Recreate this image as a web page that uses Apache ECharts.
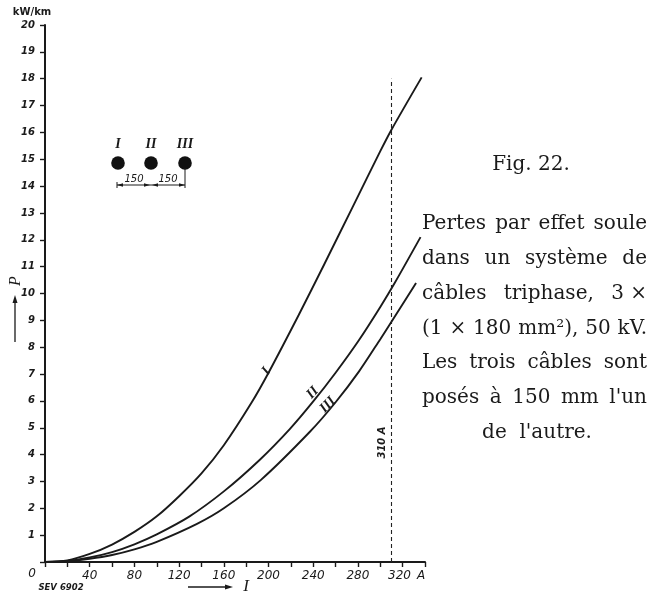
<!DOCTYPE html>
<html><head><meta charset="utf-8">
<script src="https://cdn.jsdelivr.net/npm/echarts@6/dist/echarts.min.js"></script>
<style>html,body{margin:0;padding:0;background:#fff}#c{width:647px;height:595px}</style>
</head><body><div id="c"></div>
<script>
// ---- data (current I in A, loss P in kW/km) ----
const xTickValues = [0,20,40,60,80,100,120,140,160,180,200,220,240,260,280,300,320,340];
const xLabelValues = [40,80,120,160,200,240,280,320];
const yLabelValues = [1,2,3,4,5,6,7,8,9,10,11,12,13,14,15,16,17,18,19,20];
const curveI   = [[0,0],[20,0.06],[40,0.3],[60,0.65],[80,1.12],[100,1.7],[120,2.45],[140,3.3],[160,4.35],[185,5.95],[200,7.05],[227,9.2],[250,11.1],[275,13.2],[300,15.3],[310,16.1],[337,18.05]];
const curveII  = [[0,0],[20,0.04],[40,0.17],[60,0.37],[80,0.66],[100,1.03],[129,1.69],[160,2.63],[192,3.8],[219,4.95],[240,5.98],[260,7.05],[281,8.27],[300,9.5],[313,10.4],[336,12.1]];
const curveIII = [[0,0],[20,0.03],[40,0.12],[60,0.26],[80,0.47],[100,0.75],[136,1.42],[160,2.0],[193,3.05],[237,4.85],[260,5.95],[281,7.1],[300,8.3],[310,8.95],[332,10.39]];
const limitCurrent = 310;
const limitTop = 18;
const curveNames = ['I','II','III'];
const curveLabelAt = [[198,7.1],[239.5,6.3],[253,5.85]];
const figTitle = 'Fig. 22.';
const captionLines = [
  ['Pertes','par','effet','soule'],
  ['dans','un','système','de'],
  ['câbles','triphase,','3 ×'],
  ['(1','×','180','mm²),','50','kV.'],
  ['Les','trois','câbles','sont'],
  ['posés','à','150','mm',"l'un"]
];
const captionLast = "de  l'autre.";

const ink = '#1a1a1a';
const chart = echarts.init(document.getElementById('c'), null, {renderer:'canvas'});

// justify caption lines
const cv = document.createElement('canvas').getContext('2d');
const capFont = '20px "DejaVu Serif"';
cv.font = capFont;
const capLeft = 422, capRight = 647;
const capY0 = 224, capStep = 34.8;
const captionGraphics = [];
captionLines.forEach((words, li) => {
  const widths = words.map(w => cv.measureText(w).width);
  const total = widths.reduce((a,b)=>a+b,0);
  const gap = Math.max(5, (capRight - capLeft - total) / (words.length - 1));
  let x = capLeft;
  words.forEach((w, wi) => {
    captionGraphics.push({type:'text', x:x, y:capY0 + li*capStep,
      style:{text:w, font:capFont, fill:ink, align:'left', verticalAlign:'middle'}});
    x += widths[wi] + gap;
  });
});
captionGraphics.push({type:'text', x:537, y:capY0 + 6*capStep,
  style:{text:captionLast, font:capFont, fill:ink, align:'center', verticalAlign:'middle'}});
captionGraphics.push({type:'text', x:531, y:165,
  style:{text:figTitle, font:capFont, fill:ink, align:'center', verticalAlign:'middle'}});

// cable arrangement sketch
const cableX = [118, 151, 185];
const sketch = [];
cableX.forEach((cx, i) => {
  sketch.push({type:'circle', shape:{cx:cx, cy:163, r:6.8}, style:{fill:'#111'}});
  sketch.push({type:'text', x:cx, y:144, style:{text:curveNames[i], font:'italic bold 14px "Liberation Serif"', fill:ink, align:'center', verticalAlign:'middle'}});
});
sketch.push({type:'line', shape:{x1:117, y1:185, x2:185, y2:185}, style:{stroke:ink, lineWidth:1}});
sketch.push({type:'line', shape:{x1:185, y1:168, x2:185, y2:188}, style:{stroke:ink, lineWidth:1}});
sketch.push({type:'line', shape:{x1:117, y1:182, x2:117, y2:188}, style:{stroke:ink, lineWidth:1}});
sketch.push({type:'polygon', shape:{points:[[117,185],[123,183.3],[123,186.7]]}, style:{fill:ink}});
sketch.push({type:'polygon', shape:{points:[[150,185],[144,183.3],[144,186.7]]}, style:{fill:ink}});
sketch.push({type:'polygon', shape:{points:[[152,185],[158,183.3],[158,186.7]]}, style:{fill:ink}});
sketch.push({type:'polygon', shape:{points:[[185,185],[179,183.3],[179,186.7]]}, style:{fill:ink}});
sketch.push({type:'text', x:134, y:179, style:{text:'150', font:'italic 10px "DejaVu Sans"', fill:ink, align:'center', verticalAlign:'middle'}});
sketch.push({type:'text', x:168, y:179, style:{text:'150', font:'italic 10px "DejaVu Sans"', fill:ink, align:'center', verticalAlign:'middle'}});

// axis annotations
const axisNotes = [
  {type:'text', x:32, y:12.5, style:{text:'kW/km', font:'bold 10px "DejaVu Sans"', fill:ink, align:'center', verticalAlign:'middle'}},
  {type:'text', x:16, y:281, rotation:Math.PI/2, style:{text:'P', font:'italic 16px "Liberation Serif"', fill:ink, align:'center', verticalAlign:'middle'}},
  {type:'line', shape:{x1:15, y1:342, x2:15, y2:300}, style:{stroke:ink, lineWidth:1.3}},
  {type:'polygon', shape:{points:[[15,295],[12.5,303],[17.5,303]]}, style:{fill:ink}},
  {type:'line', shape:{x1:188, y1:587, x2:228, y2:587}, style:{stroke:ink, lineWidth:1.3}},
  {type:'polygon', shape:{points:[[233,587],[225,584.5],[225,589.5]]}, style:{fill:ink}},
  {type:'text', x:246, y:587, style:{text:'I', font:'italic 17px "Liberation Serif"', fill:ink, align:'center', verticalAlign:'middle'}},
  {type:'text', x:32, y:574, style:{text:'0', font:'italic 12px "DejaVu Sans"', fill:ink, align:'center', verticalAlign:'middle'}},
  {type:'text', x:61, y:587.5, style:{text:'SEV 6902', font:'italic bold 8.5px "DejaVu Sans"', fill:ink, align:'center', verticalAlign:'middle'}}
];

function curveSeries(name, data, idx) {
  return {
    name: name, type:'line', data:data, smooth:0.3,
    showSymbol:false, silent:true, clip:false,
    lineStyle:{color:ink, width:1.9},
    markPoint:{
      symbol:'circle', symbolSize:0, silent:true,
      data:[{coord:curveLabelAt[idx], label:{show:true, formatter:name, position:'inside',
        rotate:idx===0?52:46, color:ink, fontFamily:'Liberation Serif', fontStyle:'italic', fontWeight:'bold', fontSize:14}}]
    }
  };
}

const option = {
  animation:false,
  backgroundColor:'#ffffff',
  grid:{left:45, right:222, top:25, bottom:33},
  xAxis:{
    type:'value', min:0, max:340, interval:20,
    axisLine:{show:true, lineStyle:{color:ink, width:2}},
    axisTick:{show:true, length:5, customValues:xTickValues, lineStyle:{color:ink, width:1.4}},
    axisLabel:{customValues:xLabelValues, margin:8, color:ink, fontStyle:'italic', fontSize:12, fontFamily:'DejaVu Sans',
      formatter: v => v===320 ? '{n|320}{a|A}' : String(v),
      rich:{n:{fontStyle:'italic', fontSize:12, fontFamily:'DejaVu Sans', color:ink, padding:[0,0,0,8]},
            a:{fontSize:12, fontFamily:'DejaVu Sans', color:ink, padding:[0,0,0,6]}}},
    splitLine:{show:false}
  },
  yAxis:{
    type:'value', min:0, max:20, interval:1,
    axisLine:{show:true, lineStyle:{color:ink, width:2}},
    axisTick:{show:true, length:5, lineStyle:{color:ink, width:1.4}},
    axisLabel:{customValues:yLabelValues, margin:10, color:ink, fontStyle:'italic', fontWeight:'bold', fontSize:10, fontFamily:'DejaVu Sans'},
    splitLine:{show:false}
  },
  series:[
    curveSeries('I', curveI, 0),
    curveSeries('II', curveII, 1),
    curveSeries('III', curveIII, 2),
    {
      name:'limit', type:'line', data:[], silent:true,
      markLine:{symbol:['none','none'], silent:true, label:{show:false},
        lineStyle:{type:[4,3], color:'#222', width:1.1},
        data:[[{coord:[limitCurrent,0]},{coord:[limitCurrent,limitTop]}]]},
      markPoint:{symbol:'circle', symbolSize:0, silent:true,
        data:[{coord:[limitCurrent-8,4.45], label:{show:true, formatter:'310 A', position:'inside', rotate:90,
          color:ink, fontStyle:'italic', fontWeight:'bold', fontSize:10, fontFamily:'DejaVu Sans'}}]}
    }
  ],
  graphic:[].concat(sketch, axisNotes, captionGraphics)
};
chart.setOption(option);
</script>
</body></html>
